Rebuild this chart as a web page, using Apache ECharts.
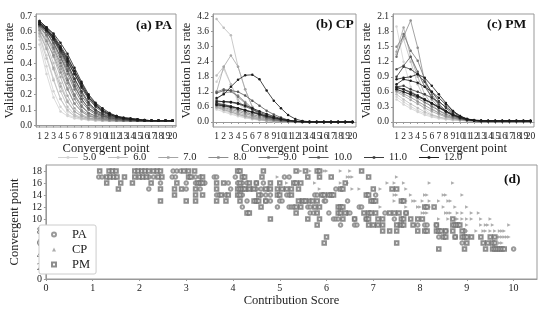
<!DOCTYPE html>
<html>
<head>
<meta charset="utf-8">
<script src="https://cdn.jsdelivr.net/npm/echarts@6/dist/echarts.min.js"></script>
<style>
  html, body { margin: 0; padding: 0; background: #fff; }
  #chart { width: 550px; height: 313px; }
</style>
</head>
<body>
<div id="chart"></div>
<script>
// legend groups, light -> dark
const groupNames = ['5.0', '6.0', '7.0', '8.0', '9.0', '10.0', '11.0', '12.0']
const convergentPoints = ['1', '2', '3', '4', '5', '6', '7', '8', '9', '10', '11', '12', '13', '14', '15', '16', '17', '18', '19', '20']

const paTicks = [0, 0.1, 0.2, 0.3, 0.4, 0.5, 0.6, 0.7]
const cpTicks = [0, 0.6, 1.2, 1.8, 2.4, 3.0, 3.6, 4.2]
const pmTicks = [0, 0.3, 0.6, 0.9, 1.2, 1.5, 1.8, 2.1]
const scoreTicks = [0, 1, 2, 3, 4, 5, 6, 7, 8, 9, 10]
const pointTicks = [0, 2, 4, 6, 8, 10, 12, 14, 16, 18]

// (a) PA : [group, loss per convergent point]
const paLines = [
  [0, [0.55, 0.38, 0.22, 0.12, 0.07, 0.05, 0.04, 0.035, 0.03, 0.03, 0.03, 0.03, 0.03, 0.03, 0.03, 0.03, 0.03, 0.03, 0.03, 0.03]],
  [0, [0.58, 0.45, 0.30, 0.17, 0.09, 0.06, 0.045, 0.04, 0.035, 0.03, 0.03, 0.03, 0.03, 0.03, 0.03, 0.03, 0.03, 0.03, 0.03, 0.03]],
  [0, [0.52, 0.33, 0.18, 0.09, 0.06, 0.045, 0.04, 0.035, 0.03, 0.03, 0.03, 0.03, 0.03, 0.03, 0.03, 0.03, 0.03, 0.03, 0.03, 0.03]],
  [1, [0.60, 0.50, 0.36, 0.22, 0.12, 0.07, 0.05, 0.04, 0.035, 0.03, 0.03, 0.03, 0.03, 0.03, 0.03, 0.03, 0.03, 0.03, 0.03, 0.03]],
  [1, [0.57, 0.43, 0.29, 0.17, 0.10, 0.06, 0.045, 0.04, 0.035, 0.03, 0.03, 0.03, 0.03, 0.03, 0.03, 0.03, 0.03, 0.03, 0.03, 0.03]],
  [1, [0.62, 0.52, 0.40, 0.27, 0.16, 0.09, 0.06, 0.045, 0.04, 0.035, 0.03, 0.03, 0.03, 0.03, 0.03, 0.03, 0.03, 0.03, 0.03, 0.03]],
  [2, [0.62, 0.55, 0.44, 0.31, 0.19, 0.11, 0.07, 0.05, 0.04, 0.035, 0.03, 0.03, 0.03, 0.03, 0.03, 0.03, 0.03, 0.03, 0.03, 0.03]],
  [2, [0.59, 0.49, 0.37, 0.25, 0.15, 0.09, 0.06, 0.045, 0.04, 0.035, 0.03, 0.03, 0.03, 0.03, 0.03, 0.03, 0.03, 0.03, 0.03, 0.03]],
  [2, [0.63, 0.57, 0.47, 0.36, 0.24, 0.14, 0.09, 0.06, 0.05, 0.04, 0.035, 0.03, 0.03, 0.03, 0.03, 0.03, 0.03, 0.03, 0.03, 0.03]],
  [3, [0.63, 0.58, 0.49, 0.38, 0.27, 0.17, 0.10, 0.07, 0.05, 0.04, 0.035, 0.03, 0.03, 0.03, 0.03, 0.03, 0.03, 0.03, 0.03, 0.03]],
  [3, [0.64, 0.60, 0.52, 0.42, 0.30, 0.20, 0.13, 0.08, 0.06, 0.045, 0.04, 0.035, 0.03, 0.03, 0.03, 0.03, 0.03, 0.03, 0.03, 0.03]],
  [3, [0.61, 0.54, 0.45, 0.34, 0.23, 0.14, 0.09, 0.06, 0.05, 0.04, 0.035, 0.03, 0.03, 0.03, 0.03, 0.03, 0.03, 0.03, 0.03, 0.03]],
  [4, [0.65, 0.60, 0.53, 0.44, 0.33, 0.23, 0.15, 0.10, 0.07, 0.055, 0.045, 0.04, 0.035, 0.03, 0.03, 0.03, 0.03, 0.03, 0.03, 0.03]],
  [4, [0.64, 0.58, 0.50, 0.40, 0.29, 0.19, 0.12, 0.08, 0.06, 0.05, 0.04, 0.035, 0.03, 0.03, 0.03, 0.03, 0.03, 0.03, 0.03, 0.03]],
  [4, [0.66, 0.62, 0.55, 0.46, 0.36, 0.26, 0.17, 0.11, 0.08, 0.06, 0.05, 0.04, 0.035, 0.03, 0.03, 0.03, 0.03, 0.03, 0.03, 0.03]],
  [5, [0.65, 0.61, 0.55, 0.47, 0.38, 0.28, 0.19, 0.13, 0.09, 0.065, 0.05, 0.045, 0.04, 0.035, 0.03, 0.03, 0.03, 0.03, 0.03, 0.03]],
  [5, [0.66, 0.62, 0.56, 0.48, 0.40, 0.30, 0.21, 0.14, 0.10, 0.07, 0.055, 0.045, 0.04, 0.035, 0.03, 0.03, 0.03, 0.03, 0.03, 0.03]],
  [5, [0.64, 0.60, 0.53, 0.44, 0.35, 0.25, 0.17, 0.11, 0.08, 0.06, 0.05, 0.04, 0.035, 0.03, 0.03, 0.03, 0.03, 0.03, 0.03, 0.03]],
  [6, [0.66, 0.62, 0.57, 0.50, 0.42, 0.33, 0.24, 0.17, 0.12, 0.085, 0.065, 0.05, 0.045, 0.04, 0.035, 0.03, 0.03, 0.03, 0.03, 0.03]],
  [6, [0.65, 0.61, 0.55, 0.48, 0.39, 0.30, 0.22, 0.15, 0.10, 0.075, 0.06, 0.05, 0.04, 0.035, 0.03, 0.03, 0.03, 0.03, 0.03, 0.03]],
  [6, [0.67, 0.63, 0.58, 0.51, 0.44, 0.35, 0.26, 0.18, 0.13, 0.09, 0.07, 0.055, 0.045, 0.04, 0.035, 0.03, 0.03, 0.03, 0.03, 0.03]],
  [7, [0.66, 0.62, 0.57, 0.50, 0.43, 0.35, 0.27, 0.19, 0.14, 0.10, 0.075, 0.06, 0.05, 0.045, 0.04, 0.035, 0.03, 0.03, 0.03, 0.03]],
  [7, [0.67, 0.63, 0.59, 0.53, 0.46, 0.37, 0.28, 0.20, 0.145, 0.11, 0.08, 0.06, 0.05, 0.045, 0.04, 0.035, 0.03, 0.03, 0.03, 0.03]],
  [7, [0.65, 0.61, 0.56, 0.49, 0.41, 0.33, 0.25, 0.18, 0.13, 0.095, 0.07, 0.055, 0.045, 0.04, 0.035, 0.03, 0.03, 0.03, 0.03, 0.03]]
]

// (b) CP
const cpLines = [
  [0, [0.55, 0.45, 0.35, 0.26, 0.18, 0.12, 0.08, 0.05, 0.03, 0.02, 0.01, 0.005, 0, 0, 0, 0, 0, 0, 0, 0]],
  [0, [1.6, 2.1, 1.5, 0.8, 0.4, 0.2, 0.1, 0.06, 0.03, 0.02, 0.01, 0, 0, 0, 0, 0, 0, 0, 0, 0]],
  [0, [0.5, 0.4, 0.31, 0.23, 0.16, 0.11, 0.07, 0.04, 0.02, 0.01, 0.005, 0, 0, 0, 0, 0, 0, 0, 0, 0]],
  [1, [4.1, 3.75, 3.45, 2.2, 1.3, 0.6, 0.3, 0.15, 0.08, 0.04, 0.02, 0.01, 0, 0, 0, 0, 0, 0, 0, 0]],
  [1, [0.6, 0.5, 0.4, 0.3, 0.21, 0.14, 0.09, 0.06, 0.04, 0.02, 0.01, 0.005, 0, 0, 0, 0, 0, 0, 0, 0]],
  [1, [1.85, 2.2, 1.5, 0.9, 0.5, 0.25, 0.12, 0.06, 0.03, 0.02, 0.01, 0, 0, 0, 0, 0, 0, 0, 0, 0]],
  [2, [1.2, 2.2, 2.65, 2.2, 1.3, 0.6, 0.3, 0.15, 0.08, 0.04, 0.02, 0.01, 0, 0, 0, 0, 0, 0, 0, 0]],
  [2, [0.62, 0.54, 0.45, 0.36, 0.27, 0.19, 0.13, 0.08, 0.05, 0.03, 0.015, 0.005, 0, 0, 0, 0, 0, 0, 0, 0]],
  [2, [0.58, 0.49, 0.4, 0.31, 0.23, 0.16, 0.1, 0.06, 0.04, 0.02, 0.01, 0, 0, 0, 0, 0, 0, 0, 0, 0]],
  [3, [0.65, 0.58, 0.5, 0.42, 0.33, 0.25, 0.17, 0.11, 0.07, 0.04, 0.02, 0.01, 0, 0, 0, 0, 0, 0, 0, 0]],
  [3, [0.9, 1.15, 1.2, 1.05, 0.8, 0.55, 0.35, 0.2, 0.1, 0.05, 0.02, 0.01, 0, 0, 0, 0, 0, 0, 0, 0]],
  [4, [1.2, 1.3, 1.25, 1.0, 0.75, 0.5, 0.3, 0.17, 0.09, 0.05, 0.02, 0.01, 0, 0, 0, 0, 0, 0, 0, 0]],
  [4, [0.7, 0.63, 0.56, 0.48, 0.39, 0.3, 0.22, 0.15, 0.09, 0.05, 0.025, 0.01, 0, 0, 0, 0, 0, 0, 0, 0]],
  [5, [1.15, 1.25, 1.25, 1.2, 1.05, 0.85, 0.65, 0.45, 0.3, 0.18, 0.08, 0.03, 0.01, 0, 0, 0, 0, 0, 0, 0]],
  [5, [0.75, 0.7, 0.63, 0.55, 0.46, 0.37, 0.28, 0.2, 0.13, 0.08, 0.04, 0.02, 0.01, 0, 0, 0, 0, 0, 0, 0]],
  [6, [0.85, 0.8, 0.78, 0.72, 0.62, 0.5, 0.38, 0.27, 0.18, 0.11, 0.05, 0.02, 0.01, 0, 0, 0, 0, 0, 0, 0]],
  [6, [0.72, 0.68, 0.62, 0.55, 0.47, 0.39, 0.3, 0.22, 0.15, 0.09, 0.05, 0.02, 0.01, 0, 0, 0, 0, 0, 0, 0]],
  [7, [0.95, 1.1, 1.4, 1.68, 1.86, 1.88, 1.7, 1.25, 0.85, 0.55, 0.28, 0.12, 0.04, 0.01, 0, 0, 0, 0, 0, 0]],
  [7, [0.8, 0.82, 0.8, 0.75, 0.66, 0.55, 0.43, 0.32, 0.22, 0.14, 0.07, 0.03, 0.01, 0, 0, 0, 0, 0, 0, 0]],
  [7, [0.68, 0.64, 0.6, 0.54, 0.47, 0.4, 0.32, 0.24, 0.17, 0.11, 0.06, 0.03, 0.01, 0, 0, 0, 0, 0, 0, 0]]
]

// (c) PM
const pmLines = [
  [0, [0.45, 0.35, 0.27, 0.2, 0.14, 0.1, 0.07, 0.05, 0.04, 0.03, 0.025, 0.02, 0.02, 0.02, 0.02, 0.02, 0.02, 0.02, 0.02, 0.02]],
  [0, [1.9, 1.2, 0.7, 0.4, 0.25, 0.15, 0.1, 0.06, 0.04, 0.03, 0.02, 0.02, 0.02, 0.02, 0.02, 0.02, 0.02, 0.02, 0.02, 0.02]],
  [0, [0.5, 0.4, 0.31, 0.23, 0.17, 0.12, 0.08, 0.06, 0.04, 0.03, 0.025, 0.02, 0.02, 0.02, 0.02, 0.02, 0.02, 0.02, 0.02, 0.02]],
  [1, [0.55, 0.45, 0.36, 0.28, 0.2, 0.14, 0.1, 0.07, 0.05, 0.035, 0.025, 0.02, 0.02, 0.02, 0.02, 0.02, 0.02, 0.02, 0.02, 0.02]],
  [1, [1.35, 1.65, 1.2, 0.75, 0.45, 0.28, 0.17, 0.1, 0.06, 0.04, 0.03, 0.02, 0.02, 0.02, 0.02, 0.02, 0.02, 0.02, 0.02, 0.02]],
  [2, [1.4, 1.88, 1.3, 0.9, 0.55, 0.35, 0.22, 0.14, 0.08, 0.05, 0.03, 0.02, 0.02, 0.02, 0.02, 0.02, 0.02, 0.02, 0.02, 0.02]],
  [2, [0.6, 0.52, 0.44, 0.36, 0.28, 0.21, 0.15, 0.1, 0.07, 0.05, 0.03, 0.02, 0.02, 0.02, 0.02, 0.02, 0.02, 0.02, 0.02, 0.02]],
  [3, [1.5, 1.7, 2.02, 1.48, 0.8, 0.45, 0.3, 0.2, 0.12, 0.07, 0.04, 0.03, 0.02, 0.02, 0.02, 0.02, 0.02, 0.02, 0.02, 0.02]],
  [3, [0.62, 0.56, 0.49, 0.41, 0.33, 0.25, 0.18, 0.12, 0.08, 0.05, 0.03, 0.02, 0.02, 0.02, 0.02, 0.02, 0.02, 0.02, 0.02, 0.02]],
  [4, [1.3, 1.75, 1.42, 1.22, 0.85, 0.55, 0.35, 0.22, 0.12, 0.07, 0.04, 0.03, 0.02, 0.02, 0.02, 0.02, 0.02, 0.02, 0.02, 0.02]],
  [4, [0.65, 0.6, 0.54, 0.47, 0.39, 0.31, 0.23, 0.16, 0.1, 0.06, 0.04, 0.03, 0.02, 0.02, 0.02, 0.02, 0.02, 0.02, 0.02, 0.02]],
  [5, [1.05, 1.12, 1.3, 1.0, 0.7, 0.5, 0.35, 0.22, 0.13, 0.07, 0.04, 0.03, 0.02, 0.02, 0.02, 0.02, 0.02, 0.02, 0.02, 0.02]],
  [5, [0.7, 0.65, 0.6, 0.53, 0.45, 0.37, 0.28, 0.2, 0.13, 0.08, 0.05, 0.03, 0.02, 0.02, 0.02, 0.02, 0.02, 0.02, 0.02, 0.02]],
  [6, [0.9, 1.1, 1.05, 0.95, 0.8, 0.6, 0.42, 0.28, 0.16, 0.08, 0.04, 0.03, 0.02, 0.02, 0.02, 0.02, 0.02, 0.02, 0.02, 0.02]],
  [6, [0.7, 0.72, 0.65, 0.6, 0.55, 0.48, 0.4, 0.3, 0.2, 0.1, 0.05, 0.03, 0.02, 0.02, 0.02, 0.02, 0.02, 0.02, 0.02, 0.02]],
  [7, [0.85, 0.88, 0.9, 0.95, 0.88, 0.72, 0.55, 0.38, 0.22, 0.12, 0.06, 0.03, 0.02, 0.02, 0.02, 0.02, 0.02, 0.02, 0.02, 0.02]],
  [7, [0.75, 0.85, 0.82, 0.78, 0.7, 0.6, 0.48, 0.35, 0.22, 0.12, 0.06, 0.03, 0.02, 0.02, 0.02, 0.02, 0.02, 0.02, 0.02, 0.02]],
  [7, [0.68, 0.65, 0.58, 0.52, 0.45, 0.38, 0.3, 0.22, 0.15, 0.1, 0.06, 0.04, 0.03, 0.02, 0.02, 0.02, 0.02, 0.02, 0.02, 0.02]],
  [7, [0.65, 0.6, 0.55, 0.5, 0.44, 0.37, 0.29, 0.21, 0.14, 0.09, 0.05, 0.03, 0.02, 0.02, 0.02, 0.02, 0.02, 0.02, 0.02, 0.02]]
]

// (d) contribution score per convergent point: [point, [scores]]
const paRows = [
  [18, [2.72, 2.8, 2.88]],
  [17, [1.13, 1.2, 2.2, 2.3, 2.7, 2.77, 3.2, 3.3, 3.6, 3.65, 4.05, 5.1, 5.2]],
  [16, [2.45, 3.0, 3.2, 3.4, 3.9, 4.1, 4.2, 4.3, 4.5, 4.65]],
  [15, [2.2, 3.0, 3.3, 3.95, 4.3, 4.4, 4.5, 4.6, 4.75, 6.2]],
  [14, [3.65, 3.7, 3.85, 4.2, 4.6, 4.7, 4.8, 5.15, 5.2, 5.75, 5.8, 7.05]],
  [13, [4.3, 4.7, 4.8, 5.0, 5.05, 5.45, 5.6, 5.65, 5.95, 5.98, 6.45]],
  [12, [4.2, 4.95, 5.2, 5.25, 5.3, 5.6, 5.65, 6.7, 6.75]],
  [11, [5.65, 5.72, 6.05, 6.45, 6.5, 7.25, 7.7]],
  [10, [6.15, 6.2, 6.25, 6.6, 6.85, 7.45]],
  [9, [6.3, 6.6, 6.65, 7.55, 7.95, 8.1, 8.15, 8.35]],
  [8, [8.55, 8.95]],
  [7, [8.4, 8.75]],
  [6, [8.9]],
  [5, [10.0]]
]
const cpRows = [
  [18, [5.45, 5.65, 5.95, 6.0, 6.3, 6.5]],
  [17, [4.95, 5.15, 6.45, 6.5, 6.55, 7.5]],
  [16, [5.15, 5.75, 6.3, 6.45, 7.3, 7.45, 7.65, 8.2, 8.7]],
  [15, [5.85, 6.55, 6.7, 7.15, 7.45, 7.7]],
  [14, [7.45, 7.5, 7.8, 8.1, 8.15, 8.5, 8.55, 8.9]],
  [13, [7.02, 7.45, 7.65, 7.7, 7.85, 7.9, 8.05, 8.2, 8.4, 8.6, 8.65]],
  [12, [7.15, 7.7, 7.95, 8.0, 8.2, 8.5, 8.75, 9.0]],
  [11, [8.05, 8.1, 8.15, 8.55, 8.6, 8.65, 8.8, 8.9, 9.1, 9.25]],
  [10, [8.4, 8.6, 8.75, 8.8, 8.9, 9.0, 9.1, 9.3, 9.5]],
  [9, [8.85, 9.0, 9.3, 9.4, 9.45, 9.55, 9.9]],
  [8, [9.0, 9.2, 9.35, 9.4, 9.5, 9.6, 9.7, 9.75, 9.8]],
  [7, [9.65, 9.7, 9.75, 9.8, 9.85, 9.9]],
  [6, [9.7, 9.75]]
]
const pmRows = [
  [18, [1.15, 1.35, 1.42, 1.5, 1.9, 1.97, 2.05, 2.12, 2.2, 2.3, 2.38, 2.45, 2.95, 3.05, 3.18, 4.1, 4.15, 4.65, 5.35, 5.55, 5.8, 5.85, 6.75]],
  [17, [1.3, 1.37, 1.45, 1.52, 1.68, 1.9, 2.0, 2.07, 2.15, 2.4, 2.48, 3.05, 3.1, 3.35, 4.2, 4.25, 4.62, 5.6, 5.85, 6.1, 6.9]],
  [16, [1.3, 1.6, 1.85, 2.25, 2.8, 3.25, 3.3, 3.35, 3.65, 3.8, 4.15, 4.35, 4.5, 4.8, 5.0, 5.3, 5.35, 5.45, 6.4]],
  [15, [1.55, 2.45, 2.75, 2.9, 3.2, 3.65, 4.1, 4.15, 4.2, 4.25, 4.35, 4.45, 4.7, 4.8, 4.95, 5.05, 5.15, 5.25, 5.4, 6.3, 6.35, 7.0, 7.4, 7.5]],
  [14, [2.75, 3.2, 3.35, 3.75, 3.9, 4.1, 4.15, 4.55, 4.95, 5.0, 5.25, 5.9, 5.95, 6.05, 6.1, 6.15, 6.85, 6.9]],
  [13, [2.45, 3.0, 3.2, 3.65, 3.85, 4.15, 4.45, 4.5, 4.55, 4.7, 5.4, 5.5, 5.55, 5.7, 5.8, 6.95, 7.0, 7.05, 7.6, 7.65]],
  [12, [4.6, 5.35, 5.45, 5.75, 5.85, 6.25, 6.3, 6.35, 8.1, 8.15, 8.3]],
  [11, [4.3, 4.35, 5.35, 5.8, 6.25, 6.3, 6.4, 6.8, 6.9, 6.95, 7.05, 7.35, 7.45, 7.55, 7.7]],
  [10, [4.8, 5.6, 5.85, 6.35, 6.6, 6.85, 6.9, 7.1, 7.2, 7.6, 7.65, 7.8, 7.95, 8.05, 8.7]],
  [9, [5.8, 6.9, 7.0, 7.1, 7.2, 7.5, 7.6, 7.65, 7.85, 8.35, 8.7, 8.75, 8.8, 8.85]],
  [8, [7.2, 7.35, 7.5, 7.95, 8.1, 8.15, 8.35, 8.4, 8.45, 8.55, 8.7, 8.9]],
  [7, [6.0, 8.5, 8.55, 8.75, 8.9, 8.95, 9.0, 9.1, 9.3, 9.5, 9.6]],
  [6, [5.95, 7.5, 9.0, 9.35, 9.45, 9.55, 9.6]],
  [5, [8.4, 8.95, 9.4, 9.55, 9.6, 9.65, 9.7, 9.75, 9.8]]
]

const grays = ['#d2d2d2', '#bcbcbc', '#a4a4a4', '#8c8c8c', '#727272', '#575757', '#3b3b3b', '#1c1c1c']
const FONT = 'Liberation Serif'
const TXT = '#222'
// thin line with a small dot in the middle
const LINE_ICON = 'path://M0,4.5L20,4.5L20,5.5L0,5.5Z M8.8,3.8L11.2,3.8L11.2,6.2L8.8,6.2Z'

function lineSeries(lines, idx) {
  return lines.map(([g, values]) => ({
    type: 'line',
    name: groupNames[g],
    xAxisIndex: idx,
    yAxisIndex: idx,
    data: values,
    symbol: 'circle',
    symbolSize: 2.5,
    z: 2 + g,
    color: grays[g],
    lineStyle: { width: 0.8, color: grays[g] },
    itemStyle: { color: grays[g] }
  }))
}

function rowsToPoints(rows) {
  const out = []
  rows.forEach(([p, scores]) => {
    scores.forEach(s => out.push([s, p]))
  })
  return out
}

function lossX(idx) {
  return {
    type: 'category',
    gridIndex: idx,
    data: convergentPoints,
    boundaryGap: true,
    name: 'Convergent point',
    nameLocation: 'middle',
    nameGap: 11,
    nameTextStyle: { fontFamily: FONT, fontSize: 12.5, color: TXT },
    axisLine: { lineStyle: { color: '#999' } },
    axisTick: { show: true, alignWithLabel: true, length: 2, lineStyle: { color: '#999' } },
    axisLabel: { interval: 0, fontFamily: FONT, fontSize: 9.5, color: TXT, margin: 4 },
    splitLine: { show: false }
  }
}

function lossY(idx, min, max, ticks, gap) {
  return {
    type: 'value',
    gridIndex: idx,
    min: min,
    max: max,
    name: 'Validation loss rate',
    nameLocation: 'middle',
    nameGap: gap,
    nameTextStyle: { fontFamily: FONT, fontSize: 12.5, color: TXT },
    axisLine: { show: true, lineStyle: { color: '#999' } },
    axisTick: { show: true, length: 2, customValues: ticks, lineStyle: { color: '#999' } },
    axisLabel: {
      customValues: ticks,
      fontFamily: FONT, fontSize: 9.5, color: TXT, margin: 4,
      formatter: v => v.toFixed(1)
    },
    splitLine: { show: false }
  }
}

const chart = echarts.init(document.getElementById('chart'), null, { renderer: 'canvas' })

const titleStyle = { fontFamily: FONT, fontSize: 13.5, fontWeight: 'bold', color: '#111' }

chart.setOption({
  animation: false,
  backgroundColor: '#fff',
  title: [
    { text: '(a) PA', left: 136, top: 19, padding: 0, textStyle: titleStyle },
    { text: '(b) CP', left: 316, top: 18, padding: 0, textStyle: titleStyle },
    { text: '(c) PM', left: 487, top: 18, padding: 0, textStyle: titleStyle },
    { text: '(d)', left: 504, top: 173, padding: 0, textStyle: titleStyle }
  ],
  legend: [
    {
      data: groupNames.map(n => ({ name: n, icon: LINE_ICON })),
      left: 58,
      top: 152,
      itemWidth: 20,
      itemHeight: 10,
      itemGap: 12,
      selectedMode: false,
      padding: 0,
      textStyle: { fontFamily: FONT, fontSize: 10.5, color: TXT }
    },
    {
      data: ['PA', 'CP', 'PM'],
      orient: 'vertical',
      left: 39,
      top: 225,
      itemWidth: 4,
      itemHeight: 4,
      itemGap: 2,
      selectedMode: false,
      padding: [3, 6, 3, 12],
      backgroundColor: '#fff',
      borderColor: '#ccc',
      borderWidth: 1,
      borderRadius: 2,
      textStyle: { fontFamily: FONT, fontSize: 12.5, color: TXT, padding: [0, 0, 0, 11] }
    }
  ],
  grid: [
    { left: 36, top: 14, width: 140, height: 113, show: true, borderColor: '#999', borderWidth: 1 },
    { left: 213, top: 14, width: 143, height: 113, show: true, borderColor: '#999', borderWidth: 1 },
    { left: 393, top: 14, width: 141, height: 113, show: true, borderColor: '#999', borderWidth: 1 },
    { left: 34, top: 165, width: 503, height: 114, show: true, borderColor: '#999', borderWidth: 1 }
  ],
  xAxis: [
    lossX(0),
    lossX(1),
    lossX(2),
    {
      type: 'value',
      gridIndex: 3,
      min: 0,
      max: 10.5,
      name: 'Contribution Score',
      nameLocation: 'middle',
      nameGap: 13,
      nameTextStyle: { fontFamily: FONT, fontSize: 12.5, color: TXT },
      axisLine: { lineStyle: { color: '#999' } },
      axisTick: { show: true, length: 2, customValues: scoreTicks, lineStyle: { color: '#999' } },
      axisLabel: { customValues: scoreTicks, fontFamily: FONT, fontSize: 10, color: TXT, margin: 4 },
      splitLine: { show: false }
    }
  ],
  yAxis: [
    lossY(0, -0.01, 0.715, paTicks, 19),
    lossY(1, -0.2, 4.3, cpTicks, 16),
    lossY(2, -0.1, 2.15, pmTicks, 16),
    {
      type: 'value',
      gridIndex: 3,
      min: 0,
      max: 19,
      name: 'Convergent point',
      nameLocation: 'middle',
      nameGap: 13,
      nameTextStyle: { fontFamily: FONT, fontSize: 12.5, color: TXT },
      axisLine: { show: true, lineStyle: { color: '#999' } },
      axisTick: { show: true, length: 2, customValues: pointTicks, lineStyle: { color: '#999' } },
      axisLabel: { customValues: pointTicks, fontFamily: FONT, fontSize: 10, color: TXT, margin: 4 },
      splitLine: { show: false }
    }
  ],
  series: [
    ...lineSeries(paLines, 0),
    ...lineSeries(cpLines, 1),
    ...lineSeries(pmLines, 2),
    {
      type: 'scatter',
      name: 'PA',
      xAxisIndex: 3,
      yAxisIndex: 3,
      data: rowsToPoints(paRows),
      symbol: 'emptyCircle',
      symbolSize: 3.5,
      itemStyle: { color: '#808080', borderWidth: 0.6 }
    },
    {
      type: 'scatter',
      name: 'CP',
      xAxisIndex: 3,
      yAxisIndex: 3,
      data: rowsToPoints(cpRows),
      symbol: 'triangle',
      symbolRotate: -90,
      symbolSize: 3.5,
      itemStyle: { color: '#999' }
    },
    {
      type: 'scatter',
      name: 'PM',
      xAxisIndex: 3,
      yAxisIndex: 3,
      data: rowsToPoints(pmRows),
      symbol: 'emptyRect',
      symbolSize: 3.5,
      itemStyle: { color: '#707070', borderWidth: 0.6 }
    }
  ]
})
</script>
</body>
</html>
